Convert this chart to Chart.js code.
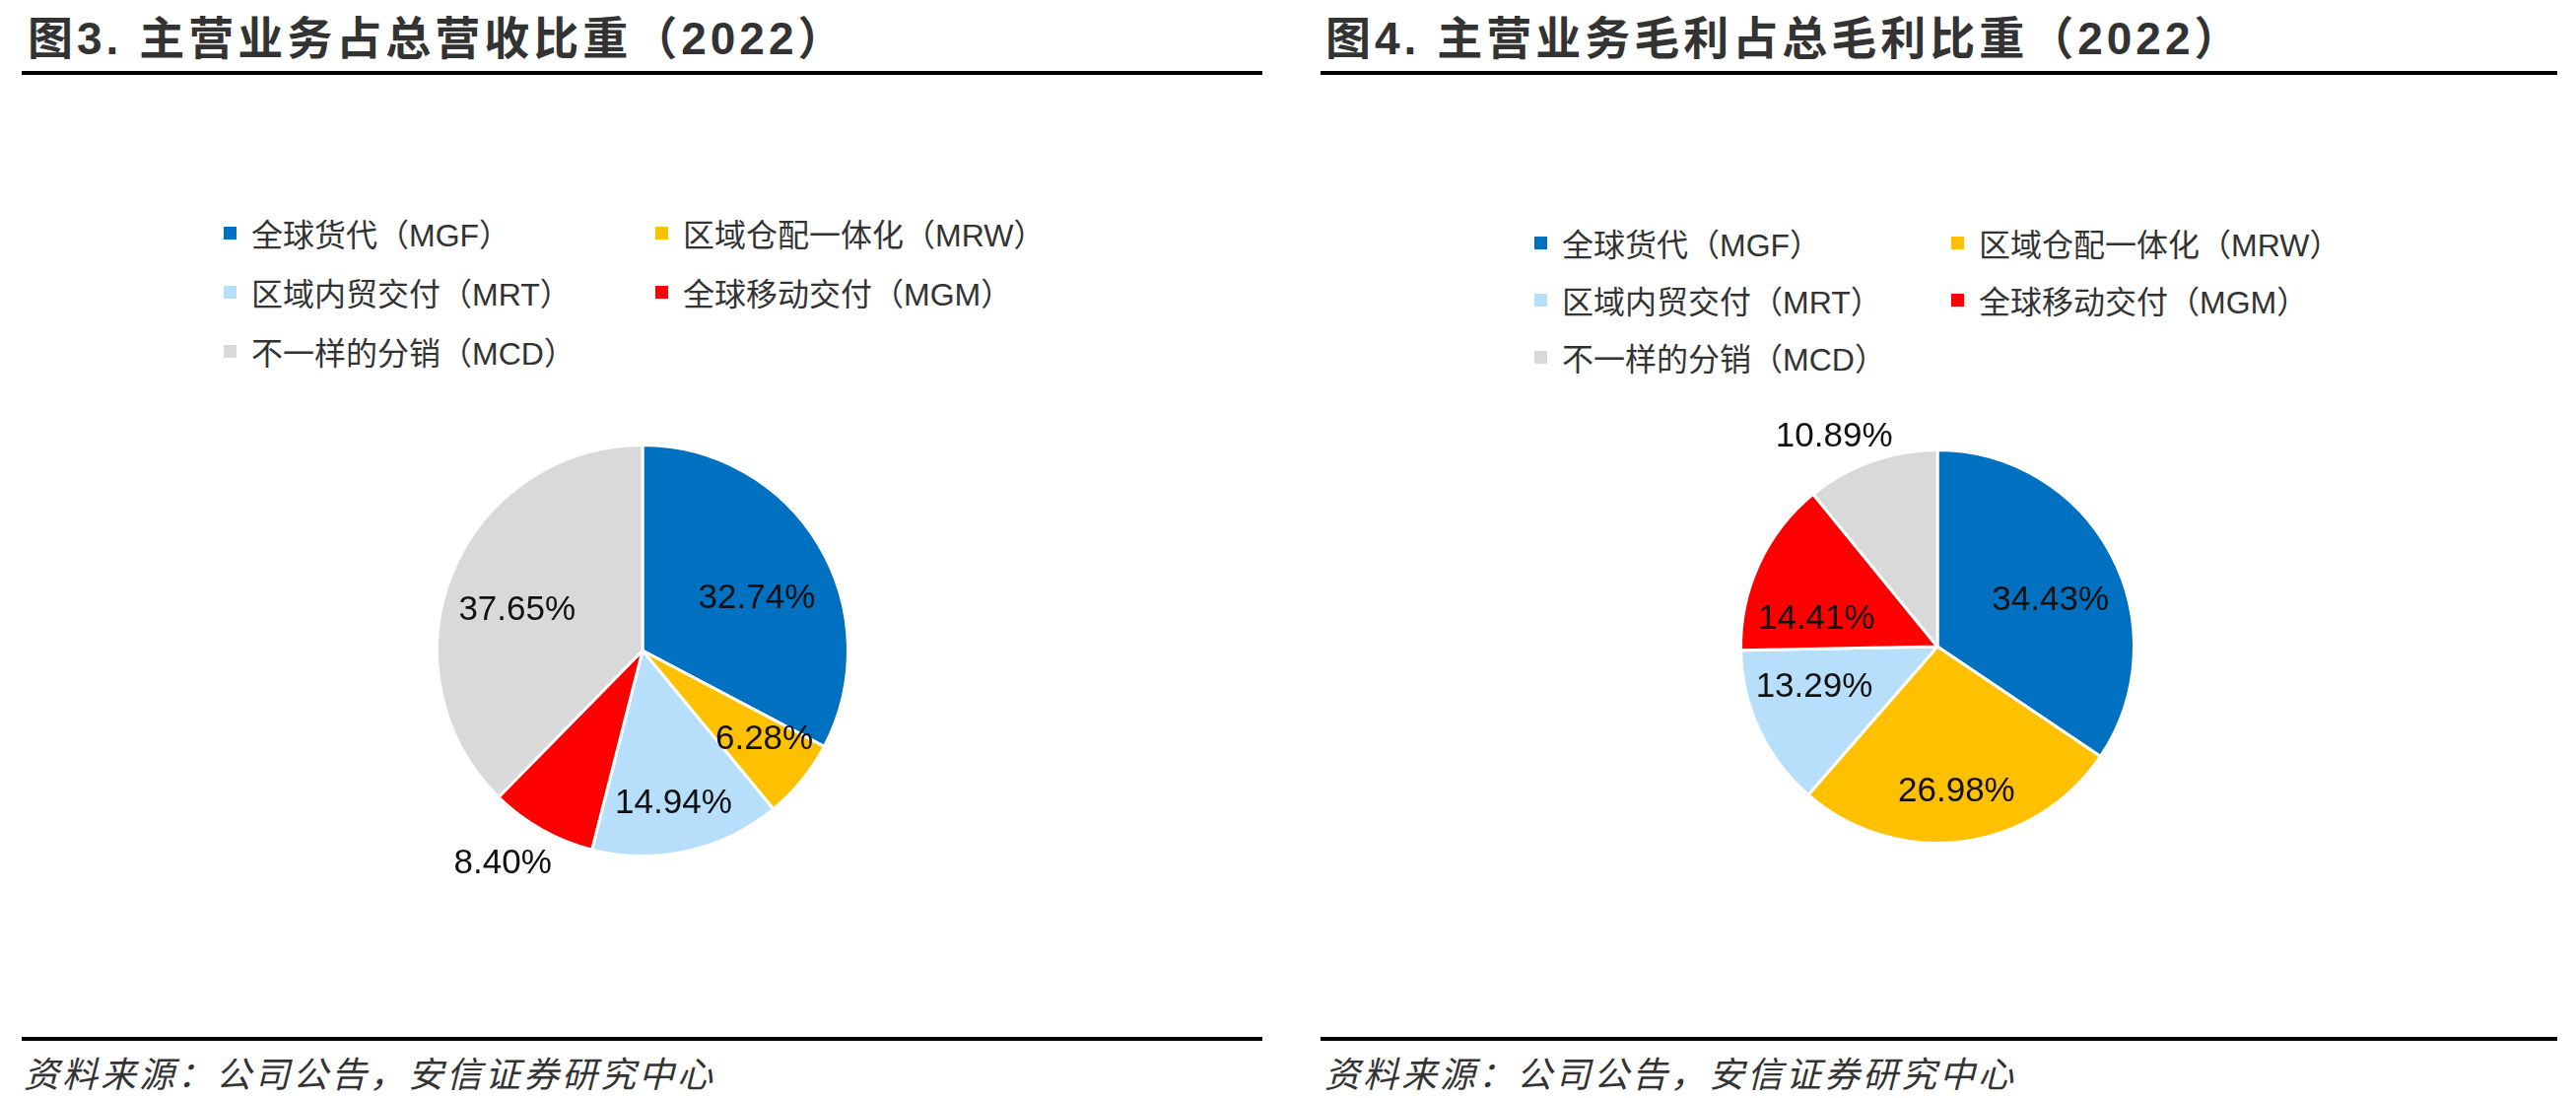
<!DOCTYPE html>
<html lang="zh-CN">
<head>
<meta charset="utf-8">
<title>主营业务占比（2022）</title>
<script src="https://cdn.jsdelivr.net/npm/chart.js@4.4.1/dist/chart.umd.min.js"></script>
<style>
  html, body { margin: 0; padding: 0; background: #fff; }
  body { width: 2614px; height: 1114px; position: relative; overflow: hidden; font-family: "Liberation Sans", "Noto Sans CJK SC", sans-serif; }
  .title { position: absolute; top: 10px; font: bold 46px "Liberation Sans", "Noto Sans CJK SC", sans-serif; letter-spacing: 4px; color: #333; white-space: nowrap; line-height: 58px; }
  .rule { position: absolute; height: 4px; background: #000; }
  .source { position: absolute; top: 1064px; font: italic 36px "Noto Sans CJK SC", sans-serif; letter-spacing: 3px; color: #333; white-space: nowrap; line-height: 46px; }
  .chart-box { position: absolute; width: 600px; height: 600px; }
  .legend-item { position: absolute; height: 60px; display: flex; align-items: center; white-space: nowrap; font-size: 32px; color: #333; }
  .legend-item .swatch { width: 13px; height: 13px; margin-right: 15px; flex: none; }
</style>
</head>
<body>

<div class="title" style="left: 28px;">图3. 主营业务占总营收比重（2022）</div>
<div class="rule" style="left: 22px; width: 1259px; top: 72px;"></div>
<div class="title" style="left: 1345px;">图4. 主营业务毛利占总毛利比重（2022）</div>
<div class="rule" style="left: 1340px; width: 1255px; top: 72px;"></div>

<div id="legend-left"></div>
<div id="legend-right"></div>

<div class="chart-box" style="left: 352px; top: 360px;"><canvas id="revenueChart"></canvas></div>
<div class="chart-box" style="left: 1666px; top: 356px;"><canvas id="profitChart"></canvas></div>

<div class="rule" style="left: 22px; width: 1259px; top: 1052px;"></div>
<div class="source" style="left: 24px;">资料来源：公司公告，安信证券研究中心</div>
<div class="rule" style="left: 1340px; width: 1255px; top: 1052px;"></div>
<div class="source" style="left: 1344px;">资料来源：公司公告，安信证券研究中心</div>

<script>
// Business segments (same order in both pies)
const segments = ['全球货代（MGF）', '区域仓配一体化（MRW）', '区域内贸交付（MRT）', '全球移动交付（MGM）', '不一样的分销（MCD）'];
const segmentColors = ['#0070C0', '#FFC000', '#B7DEFA', '#FF0000', '#D9D9D9'];

// Share of total revenue, 2022 (%)
const revenueShare = [32.74, 6.28, 14.94, 8.40, 37.65];
// Share of total gross profit, 2022 (%)
const grossProfitShare = [34.43, 26.98, 13.29, 14.41, 10.89];

// Where each value label sits: fraction of radius, and angle nudge in degrees
const revenueLabelRadius = [0.61, 0.735, 0.76, 1.24, 0.64];
const revenueLabelNudge = [6.8, -2.9, 1.2, 3.9, -4.7];
const profitLabelRadius = [0.62, 0.745, 0.66, 0.63, 1.19];
const profitLabelNudge = [6, 0, 6.7, -12.3, -6.6];

// Draws "xx.xx%" for every slice
const sliceLabels = {
  id: 'sliceLabels',
  afterDatasetsDraw(chart, args, opts) {
    const ctx = chart.ctx;
    const meta = chart.getDatasetMeta(0);
    const values = chart.data.datasets[0].data;
    ctx.save();
    ctx.font = '35px "Liberation Sans", Arial, sans-serif';
    ctx.fillStyle = '#111';
    ctx.textAlign = 'center';
    ctx.textBaseline = 'middle';
    meta.data.forEach((arc, i) => {
      const p = arc.getProps(['x', 'y', 'startAngle', 'endAngle', 'outerRadius'], true);
      const mid = (p.startAngle + p.endAngle) / 2 + (opts.nudge[i] || 0) * Math.PI / 180;
      const r = p.outerRadius * opts.radius[i];
      ctx.fillText(values[i].toFixed(2) + '%', p.x + Math.cos(mid) * r, p.y + Math.sin(mid) * r);
    });
    ctx.restore();
  }
};

function buildLegend(el, left, firstRow, rowGap, colGap) {
  el.innerHTML = segments.map((name, i) => {
    const col = i % 2;
    const row = Math.floor(i / 2);
    return `<div class="legend-item" style="left:${left + col * colGap}px; top:${firstRow + row * rowGap - 30}px;">
      <span class="swatch" style="background:${segmentColors[i]};"></span>${name}</div>`;
  }).join('');
}

function drawPie(canvasId, values, pad, labelRadius, labelNudge) {
  const ctx = document.getElementById(canvasId).getContext('2d');
  return new Chart(ctx, {
    type: 'pie',
    data: {
      labels: segments,
      datasets: [{
        data: values,
        backgroundColor: segmentColors,
        borderColor: '#FFF',
        borderWidth: 3
      }]
    },
    options: {
      responsive: true,
      maintainAspectRatio: false,
      animation: false,
      layout: { padding: pad },
      plugins: {
        legend: { display: false },
        tooltip: { enabled: false },
        sliceLabels: { radius: labelRadius, nudge: labelNudge }
      }
    },
    plugins: [sliceLabels]
  });
}

buildLegend(document.getElementById('legend-left'), 227, 236, 60, 438);
buildLegend(document.getElementById('legend-right'), 1557, 246, 58, 423);

drawPie('revenueChart', revenueShare, 90, revenueLabelRadius, revenueLabelNudge);
drawPie('profitChart', grossProfitShare, 99, profitLabelRadius, profitLabelNudge);
</script>
</body>
</html>
